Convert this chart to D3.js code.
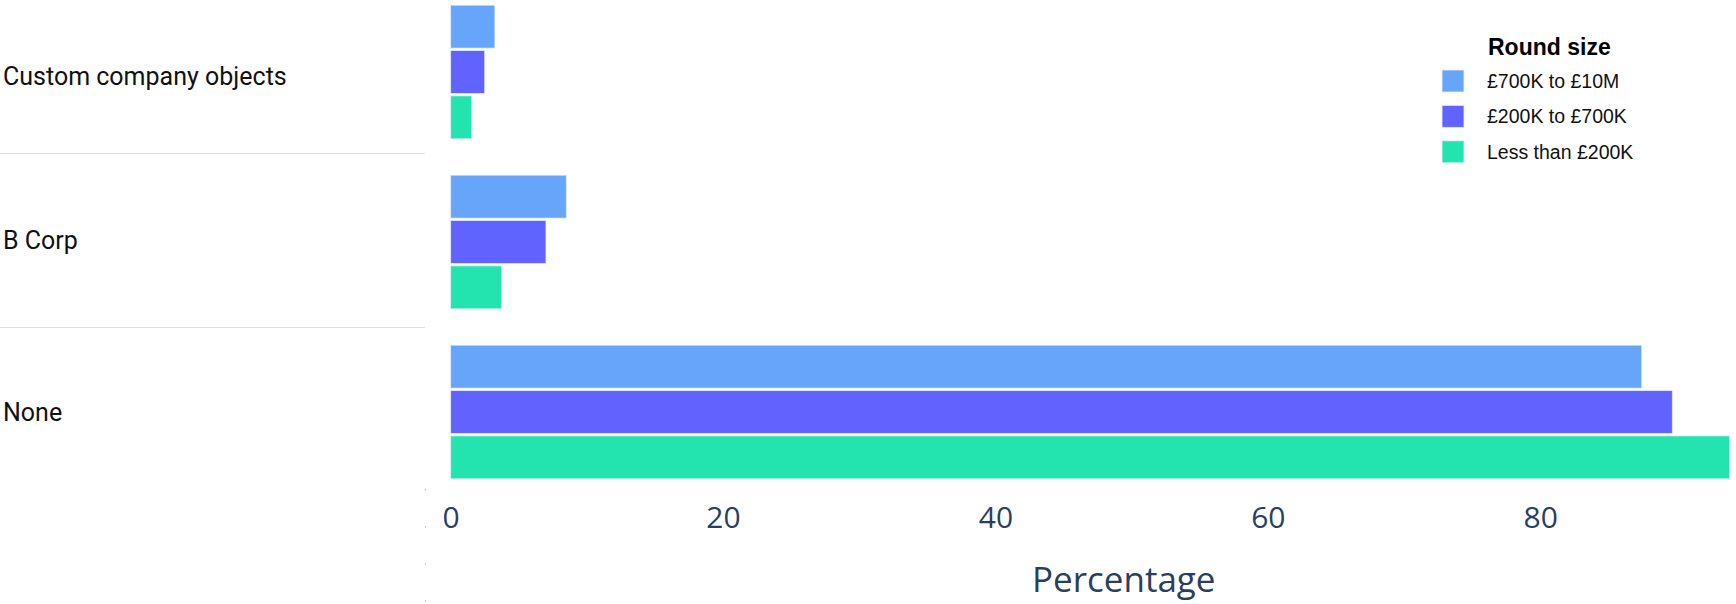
<!DOCTYPE html>
<html>
<head>
<meta charset="utf-8">
<script src="https://cdn.jsdelivr.net/npm/d3@7"></script>
<style>
  body { margin: 0; background: #fff; }
  svg { display: block; }
  .tick text { font-family: "Open Sans", sans-serif; }
</style>
</head>
<body>
<div id="chart"></div>
<script>
// categories, top to bottom
var categories = ["Custom company objects", "B Corp", "None"];
// series (legend order)
var seriesNames = ["£700K to £10M", "£200K to £700K", "Less than £200K"];
var seriesColors = ["#66a5fa", "#6163ff", "#23e4ae"];
// percentage values per series, in category order
var bigRounds = [3.25, 8.5, 87.45];
var midRounds = [2.5, 7.0, 89.7];
var smallRounds = [1.55, 3.75, 93.9];
var tickValues = [0, 20, 40, 60, 80];

var seriesValues = [bigRounds, midRounds, smallRounds];

var width = 1736, height = 604;
var svg = d3.select("#chart").append("svg")
    .attr("width", width)
    .attr("height", height);

//scales
var x = d3.scaleLinear()
    .domain([0, 98.85])
    .range([450.6, 1797]);

var y = d3.scaleBand()
    .domain(categories)
    .range([-13, 497])
    .paddingInner(0.2)
    .paddingOuter(0.1);

var yInner = d3.scaleBand()
    .domain(seriesNames)
    .range([0, y.bandwidth()]);

// the label column on the left is laid out as table rows
var rowEdges = [0, 153, 327, 497];

svg.selectAll("line.sep").data(rowEdges.slice(1, -1))
    .enter().append("line")
    .attr("class", "sep")
    .attr("x1", 0).attr("x2", 425)
    .attr("y1", function(d) { return d + 0.5; })
    .attr("y2", function(d) { return d + 0.5; })
    .attr("stroke", "#dedede")
    .attr("stroke-width", 1.2);

svg.append("line")
    .attr("x1", 425.5).attr("x2", 425.5)
    .attr("y1", 489).attr("y2", height)
    .attr("stroke", "#b8b8b8")
    .attr("stroke-width", 1)
    .attr("stroke-dasharray", "1.5,35.5");

// category labels
svg.selectAll("text.cat").data(categories)
    .enter().append("text")
    .attr("class", "cat")
    .attr("x", 3)
    .attr("y", function(d, i) { return (rowEdges[i] + rowEdges[i + 1]) / 2 + 8.5; })
    .attr("font-family", "Roboto, sans-serif")
    .attr("font-size", 25)
    .attr("fill", "#111")
    .text(function(d) { return d; });

// bars
var groups = svg.selectAll("g.series")
    .data(seriesNames)
    .enter().append("g")
    .attr("class", "series")
    .attr("fill", function(d, i) { return seriesColors[i]; });

groups.selectAll("rect")
    .data(function(d, i) {
        return categories.map(function(c, j) {
            return {series: d, cat: c, value: seriesValues[i][j]};
        });
    })
    .enter().append("rect")
    .attr("x", x(0))
    .attr("y", function(d) { return y(d.cat) + yInner(d.series) + 1.2; })
    .attr("height", yInner.bandwidth() - 2.4)
    .attr("width", function(d) { return x(d.value) - x(0); })
    .attr("stroke", "rgba(235,240,255,0.7)")
    .attr("stroke-width", 1);

// x axis
var xAxis = d3.axisBottom(x)
    .tickValues(tickValues)
    .tickSize(0)
    .tickPadding(0);

var axisG = svg.append("g")
    .attr("transform", "translate(0,506)")
    .call(xAxis);
axisG.select(".domain").remove();
axisG.selectAll("text")
    .attr("dy", 0)
    .attr("y", 22)
    .attr("font-size", 30)
    .attr("fill", "#2a3f5f");

svg.append("text")
    .attr("x", (x.range()[0] + x.range()[1]) / 2)
    .attr("y", 592)
    .attr("text-anchor", "middle")
    .attr("font-family", "Open Sans, sans-serif")
    .attr("font-size", 35)
    .attr("fill", "#2a3f5f")
    .text("Percentage");

// legend
var legend = svg.append("g")
    .attr("transform", "translate(1442,0)");

legend.append("text")
    .attr("x", 46)
    .attr("y", 55)
    .attr("font-family", "Liberation Sans, Arial, sans-serif")
    .attr("font-weight", "bold")
    .attr("font-size", 23)
    .attr("fill", "#000")
    .text("Round size");

var items = legend.selectAll("g.item").data(seriesNames)
    .enter().append("g")
    .attr("class", "item")
    .attr("transform", function(d, i) { return "translate(0," + (81 + i * 35.4) + ")"; });

items.append("rect")
    .attr("x", 0).attr("y", -11)
    .attr("width", 22).attr("height", 22)
    .attr("fill", function(d, i) { return seriesColors[i]; })
    .attr("stroke", "rgba(235,240,255,0.8)")
    .attr("stroke-width", 1);

items.append("text")
    .attr("x", 45)
    .attr("y", 7)
    .attr("font-family", "Liberation Sans, Arial, sans-serif")
    .attr("font-size", 19.5)
    .attr("fill", "#111")
    .text(function(d) { return d; });
</script>
</body>
</html>
